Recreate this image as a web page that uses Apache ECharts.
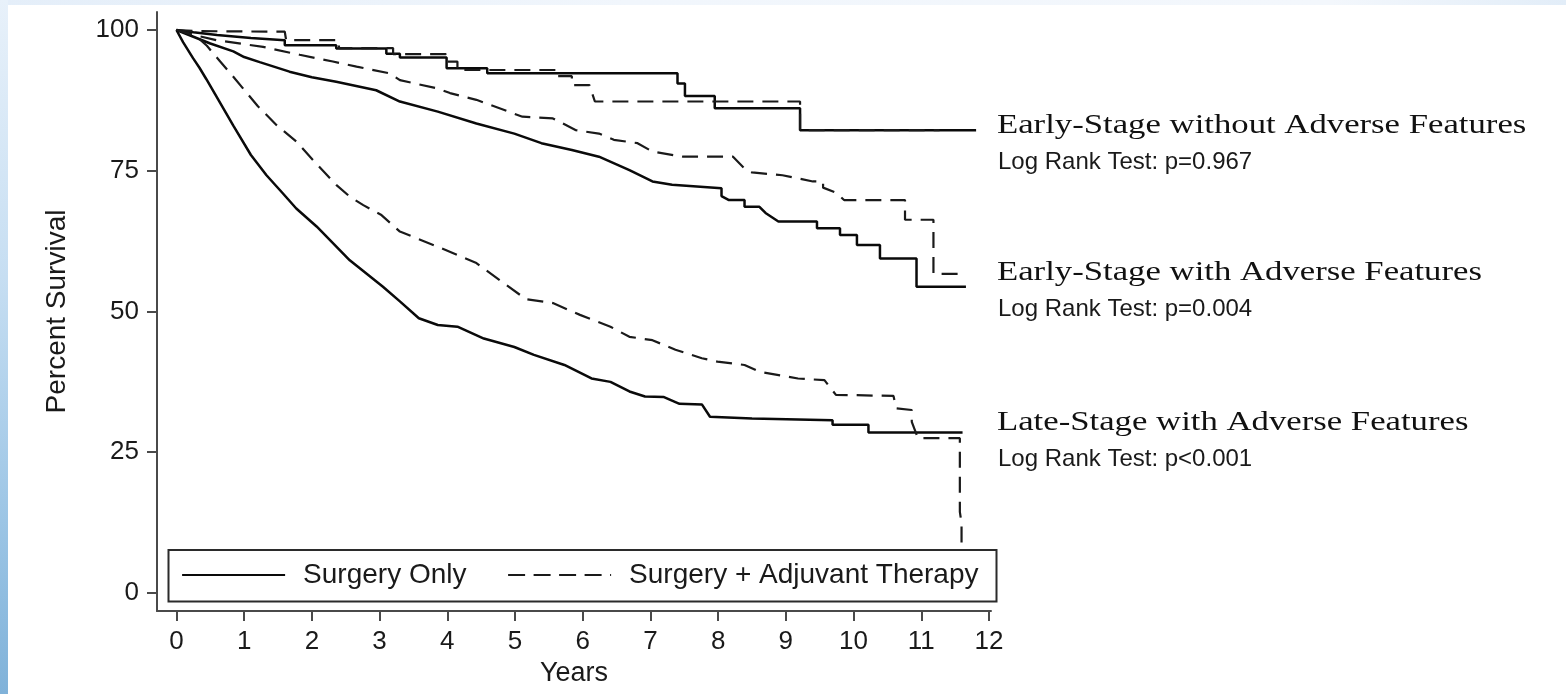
<!DOCTYPE html>
<html>
<head>
<meta charset="utf-8">
<title>Kaplan-Meier survival by stage and treatment</title>
<script src="https://cdn.jsdelivr.net/npm/echarts@6/dist/echarts.min.js"></script>
<style>
  html, body { margin: 0; padding: 0; background: #ffffff; }
  #edge-top { position: absolute; left: 0; top: 0; width: 1566px; height: 5px;
    background: linear-gradient(90deg, #e4eef9, #f1f6fc 40%, #f3f7fc 85%, #e2edf8); }
  #edge-left { position: absolute; left: 0; top: 0; width: 8px; height: 694px;
    background: linear-gradient(180deg, #e8f1fa 0%, #c6def2 40%, #9cc5e5 75%, #80b2d9 100%); }
  #chart { position: absolute; left: 0; top: 0; width: 1566px; height: 694px; }
</style>
</head>
<body>
<div id="edge-top"></div>
<div id="edge-left"></div>
<div id="chart"></div>
<script>
// Axis ticks
const yearTicks = [0, 1, 2, 3, 4, 5, 6, 7, 8, 9, 10, 11, 12];
const percentTicks = [0, 25, 50, 75, 100];

// Kaplan-Meier estimates, [years, percent surviving]
const earlyNoAdvSurgery = [
  [0, 100], [0.25, 99.6], [0.6, 99.1], [1.1, 98.6], [1.6, 98.2], [1.6, 97.3], [2.36, 97.3],
  [2.36, 96.7], [3.1, 96.7], [3.1, 95.8], [3.3, 95.8], [3.3, 95.1], [3.99, 95.1], [3.99, 93.2],
  [4.59, 93.2], [4.59, 92.3], [7.4, 92.3], [7.4, 90.5], [7.51, 90.5], [7.51, 88.3], [7.95, 88.3],
  [7.95, 86.1], [9.21, 86.1], [9.21, 82.2], [11.81, 82.2]
];
const earlyNoAdvAdjuvant = [
  [0, 100], [0.3, 99.8], [1.6, 99.7], [1.62, 98.2], [2.4, 98.2], [2.4, 96.8], [3.2, 96.8],
  [3.2, 95.7], [3.98, 95.7], [3.98, 94.4], [4.15, 94.4], [4.15, 92.9], [5.6, 92.9], [5.6, 91.8],
  [5.84, 91.8], [5.84, 90.2], [6.1, 90.2], [6.18, 87.3], [9.21, 87.3], [9.21, 82.2], [11.27, 82.2]
];
const earlyAdvSurgery = [
  [0, 100], [0.25, 98.8], [0.5, 97.6], [0.84, 96.2], [1.0, 95.2], [1.23, 94.3], [1.67, 92.6],
  [2.0, 91.6], [2.36, 90.8], [2.95, 89.3], [3.3, 87.3], [3.86, 85.5], [4.43, 83.4], [4.99, 81.6],
  [5.39, 79.9], [5.84, 78.7], [6.24, 77.5], [6.69, 75.1], [7.03, 73.1], [7.32, 72.5], [8.05, 71.9],
  [8.05, 70.5], [8.16, 69.8], [8.39, 69.8], [8.39, 68.6], [8.61, 68.6], [8.7, 67.5], [8.89, 66.0],
  [9.46, 66.0], [9.46, 64.8], [9.8, 64.8], [9.8, 63.6], [10.05, 63.6], [10.05, 61.8], [10.39, 61.8],
  [10.39, 59.4], [10.93, 59.4], [10.93, 54.4], [11.66, 54.4]
];
const earlyAdvAdjuvant = [
  [0, 100], [0.3, 99.0], [0.59, 98.2], [1.28, 97.0], [1.82, 95.6], [2.31, 94.4], [2.66, 93.5],
  [3.15, 92.3], [3.3, 91.1], [3.86, 89.6], [4.04, 88.8], [4.43, 87.6], [5.11, 84.6], [5.56, 84.3],
  [5.9, 82.2], [6.24, 81.6], [6.46, 80.5], [6.81, 79.9], [7.03, 78.4], [7.48, 77.5], [8.22, 77.5],
  [8.39, 75.4], [8.5, 74.7], [8.95, 74.2], [9.4, 73.1], [9.55, 73.1], [9.55, 72.0], [9.74, 71.1],
  [9.86, 69.8], [10.76, 69.8], [10.76, 66.3], [11.18, 66.3], [11.18, 56.7], [11.66, 56.7]
];
const lateSurgery = [
  [0, 100], [0.1, 97.8], [0.245, 95.0], [0.34, 93.3], [0.44, 91.3], [0.59, 88.2], [0.84, 83.0],
  [1.1, 77.8], [1.33, 74.2], [1.57, 71.0], [1.77, 68.3], [2.07, 65.1], [2.56, 59.1], [3.05, 54.4],
  [3.3, 51.8], [3.58, 48.8], [3.86, 47.6], [4.15, 47.3], [4.54, 45.2], [4.99, 43.7], [5.28, 42.3],
  [5.73, 40.5], [6.13, 38.1], [6.41, 37.5], [6.69, 35.8], [6.92, 34.9], [7.2, 34.8], [7.43, 33.6],
  [7.76, 33.5], [7.88, 31.3], [8.5, 31.0], [9.69, 30.7], [9.69, 29.9], [10.22, 29.9], [10.22, 28.5],
  [11.61, 28.5]
];
const lateAdjuvant = [
  [0, 100], [0.2, 99.3], [0.35, 98.3], [0.45, 97.2], [0.54, 95.9], [0.64, 94.5], [0.84, 91.7],
  [1.2, 86.5], [1.48, 83.1], [1.77, 80.2], [2.07, 76.2], [2.36, 72.5], [2.56, 70.4], [2.76, 68.9],
  [3.02, 67.2], [3.3, 64.2], [3.86, 61.5], [4.43, 58.6], [5.16, 52.2], [5.56, 51.5], [5.96, 49.4],
  [6.41, 47.3], [6.69, 45.5], [7.03, 44.9], [7.37, 43.2], [7.76, 41.7], [7.99, 41.1], [8.39, 40.5],
  [8.61, 39.3], [9.18, 38.1], [9.57, 37.8], [9.74, 35.2], [10.59, 35.0], [10.63, 32.8], [10.86, 32.5],
  [10.86, 30.4], [10.95, 27.5], [11.57, 27.5], [11.57, 14.4], [11.595, 12.4], [11.595, 0]
];

// Group labels printed at the right of each pair of curves
const groupTitles = [
  'Early-Stage without Adverse Features',
  'Early-Stage with Adverse Features',
  'Late-Stage with Adverse Features'
];
const groupTests = [
  'Log Rank Test: p=0.967',
  'Log Rank Test: p=0.004',
  'Log Rank Test: p<0.001'
];
const arms = ['Surgery Only', 'Surgery + Adjuvant Therapy'];

const SANS = "'Liberation Sans', Arial, Helvetica, sans-serif";
const SERIF = "'Liberation Serif', 'Times New Roman', serif";
const DASH = [16, 9];

function curve(arm, data) {
  const dashed = arm === arms[1];
  return {
    type: 'line',
    name: arm,
    data: data,
    symbol: 'none',
    showSymbol: false,
    animation: false,
    silent: true,
    z: 2,
    lineStyle: { color: dashed ? '#1a1a1a' : '#0a0a0a', width: dashed ? 2.2 : 2.5, type: dashed ? DASH : 'solid' },
    emphasis: { disabled: true }
  };
}

const titleY = [126, 273, 423];
const testY = [162, 309, 459];
const labelGraphics = [];
groupTitles.forEach(function (t, i) {
  labelGraphics.push({
    type: 'text', x: 997, y: titleY[i], scaleX: 1.24, z: 6,
    style: { text: t, font: '28px ' + SERIF, fill: '#111111', verticalAlign: 'middle', align: 'left' }
  });
  labelGraphics.push({
    type: 'text', x: 998, y: testY[i], z: 6,
    style: { text: groupTests[i], font: '24px ' + SANS, fill: '#1a1a1a', verticalAlign: 'middle', align: 'left' }
  });
});

const axisGray = '#4a4a4a';
const textDark = '#1a1a1a';
const chart = echarts.init(document.getElementById('chart'), null, { renderer: 'canvas' });
chart.setOption({
  animation: false,
  grid: { left: 157, top: 12, right: 575, bottom: 83, containLabel: false },
  xAxis: {
    type: 'value', min: -0.287, max: 12.03,
    name: 'Years', nameLocation: 'middle', nameGap: 46,
    nameTextStyle: { fontFamily: SANS, fontSize: 27, color: textDark },
    axisLine: { onZero: false, lineStyle: { color: axisGray, width: 2 } },
    axisTick: { customValues: yearTicks, length: 10, lineStyle: { color: axisGray, width: 2 } },
    axisLabel: { customValues: yearTicks, margin: 18, fontFamily: SANS, fontSize: 26, color: textDark },
    splitLine: { show: false }
  },
  yAxis: {
    type: 'value', min: -3.2, max: 103.2,
    name: 'Percent Survival', nameLocation: 'middle', nameGap: 86,
    nameTextStyle: { fontFamily: SANS, fontSize: 28, color: textDark },
    axisLine: { onZero: false, lineStyle: { color: axisGray, width: 2 } },
    axisTick: { customValues: percentTicks, length: 10, lineStyle: { color: axisGray, width: 2 } },
    axisLabel: { customValues: percentTicks, margin: 18, fontFamily: SANS, fontSize: 26, color: textDark },
    splitLine: { show: false }
  },
  legend: [
    {
      data: [arms[0]], left: 181, top: 560, padding: 0, z: 8, selectedMode: false,
      itemWidth: 103, itemHeight: 14,
      lineStyle: { color: '#0a0a0a', width: 2.2, type: 'solid' },
      itemStyle: { opacity: 0 },
      textStyle: { fontFamily: SANS, fontSize: 28, color: textDark, lineHeight: 30, padding: [0, 0, 0, 13] }
    },
    {
      data: [arms[1]], left: 507, top: 560, padding: 0, z: 8, selectedMode: false,
      itemWidth: 103, itemHeight: 14,
      lineStyle: { color: '#1a1a1a', width: 2.2, type: [17, 8.5] },
      itemStyle: { opacity: 0 },
      textStyle: { fontFamily: SANS, fontSize: 28, color: textDark, lineHeight: 30, padding: [0, 0, 0, 13] }
    }
  ],
  graphic: [
    {
      type: 'rect', z: 5, silent: true,
      shape: { x: 168.5, y: 550, width: 828, height: 51.5 },
      style: { fill: '#ffffff', stroke: '#2b2b2b', lineWidth: 2 }
    }
  ].concat(labelGraphics),
  series: [
    curve(arms[0], earlyNoAdvSurgery),
    curve(arms[1], earlyNoAdvAdjuvant),
    curve(arms[0], earlyAdvSurgery),
    curve(arms[1], earlyAdvAdjuvant),
    curve(arms[0], lateSurgery),
    curve(arms[1], lateAdjuvant)
  ]
});
</script>
</body>
</html>
